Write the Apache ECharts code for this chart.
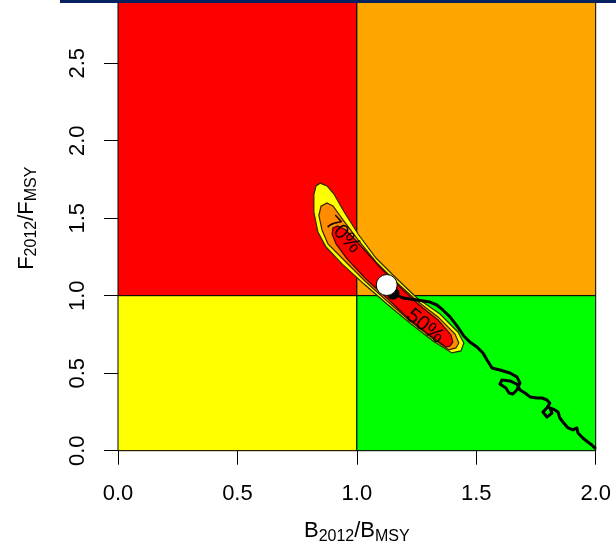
<!DOCTYPE html>
<html><head><meta charset="utf-8">
<script src="https://cdn.jsdelivr.net/npm/echarts@6/dist/echarts.min.js"></script>
<style>html,body{margin:0;padding:0;background:#fff;overflow:hidden}#c{width:616px;height:548px}</style>
</head><body><div id="c"></div>
<script>
// ---- data ----
const xTicks = [0, 0.5, 1, 1.5, 2];
const yTicks = [0, 0.5, 1, 1.5, 2, 2.5];

// quadrants: B range, F range
const quadB0 = [0, 1, 0, 1];
const quadB1 = [1, 2, 1, 2];
const quadF0 = [1, 1, 0, 0];
const quadF1 = [3, 3, 1, 1];

// stock trajectory (B/Bmsy, F/Fmsy)
const trajB = [1.997,1.984,1.967,1.946,1.926,1.921,1.905,1.884,1.863,1.850,1.842,1.829,1.808,1.817,1.796,1.779,1.796,1.808,1.796,1.775,1.754,1.725,1.704,1.683,1.670,1.641,1.607,1.599,1.624,1.637,1.653,1.670,1.683,1.670,1.641,1.599,1.566,1.545,1.528,1.503,1.473,1.448,1.419,1.390,1.360,1.335,1.306,1.252,1.193,1.151];
const trajF = [0.017,0.037,0.056,0.082,0.114,0.147,0.134,0.147,0.185,0.211,0.250,0.263,0.276,0.243,0.217,0.250,0.276,0.308,0.327,0.340,0.340,0.347,0.372,0.392,0.430,0.450,0.456,0.430,0.405,0.372,0.366,0.392,0.437,0.476,0.501,0.521,0.534,0.585,0.630,0.669,0.701,0.740,0.805,0.863,0.908,0.940,0.959,0.972,0.985,1.017];

// probability contours
const outerB = [0.846,0.875,0.904,0.942,1.005,1.080,1.164,1.252,1.348,1.423,1.448,1.436,1.398,1.319,1.222,1.126,1.030,0.938,0.871,0.837,0.820,0.820,0.829];
const outerF = [1.726,1.708,1.656,1.553,1.398,1.243,1.114,0.985,0.882,0.766,0.695,0.644,0.631,0.708,0.824,0.946,1.075,1.205,1.314,1.411,1.540,1.650,1.708];
const midB = [0.875,0.900,0.942,1.005,1.080,1.164,1.252,1.340,1.411,1.427,1.415,1.386,1.314,1.218,1.126,1.034,0.950,0.879,0.854,0.841,0.850];
const midF = [1.598,1.579,1.489,1.360,1.218,1.089,0.966,0.863,0.753,0.695,0.663,0.650,0.727,0.843,0.966,1.095,1.224,1.334,1.424,1.519,1.577];
const innerB = [0.921,0.954,1.013,1.088,1.172,1.256,1.340,1.394,1.402,1.390,1.373,1.310,1.214,1.130,1.038,0.959,0.913,0.896,0.900];
const innerF = [1.450,1.424,1.327,1.198,1.069,0.946,0.843,0.747,0.701,0.675,0.669,0.740,0.856,0.979,1.108,1.237,1.334,1.398,1.437];

const contourLabels = ['70%', '50%'];
const contourLabelB = [0.942, 1.285];
const contourLabelF = [1.392, 0.803];

const medianB = [1.125];
const medianF = [1.069];

// ---- styles ----
const FONT = 'Liberation Sans, Arial, sans-serif';
const quadColors = ['#FF0000', '#FFA500', '#FFFF00', '#00FF00'];
const polyFill = ['#FFFF00', '#FF8C00', '#FF0000'];
const polyStroke = ['#2a2a00', '#3a2000', '#400000'];
const labelRot = [-47, -39];

const polys = [[outerB, outerF], [midB, midF], [innerB, innerF]];

const chart = echarts.init(document.getElementById('c'), null, {renderer: 'canvas'});

const subRich = {
  m: {fontSize: 22, fontFamily: FONT, color: '#000'},
  s: {fontSize: 16, fontFamily: FONT, color: '#000', padding: [11, 0, 0, 0]}
};

chart.setOption({
  animation: false,
  backgroundColor: '#fff',
  grid: {left: 118, right: 20.3, top: -14.3, bottom: 97.3, outerBoundsMode: 'none', containLabel: false},
  xAxis: {
    type: 'value', min: 0, max: 2, interval: 0.5,
    splitLine: {show: false},
    axisLine: {show: true, onZero: false, lineStyle: {color: '#000', width: 1}},
    axisTick: {show: true, length: 14, lineStyle: {color: '#000', width: 1}, customValues: xTicks},
    axisLabel: {fontSize: 22, fontFamily: FONT, color: '#000', margin: 32, customValues: xTicks,
      formatter: v => v.toFixed(1)},
    name: '{m|B}{s|2012}{m|/B}{s|MSY}',
    nameLocation: 'middle', nameGap: 67,
    nameTextStyle: {fontFamily: FONT, color: '#000', rich: subRich}
  },
  yAxis: {
    type: 'value', min: 0, max: 3, interval: 0.5,
    splitLine: {show: false},
    axisLine: {show: true, onZero: false, lineStyle: {color: '#000', width: 1}},
    axisTick: {show: true, length: 14, lineStyle: {color: '#000', width: 1}, customValues: yTicks},
    axisLabel: {fontSize: 22, fontFamily: FONT, color: '#000', margin: 29, rotate: 90, customValues: yTicks,
      formatter: v => v.toFixed(1)},
    name: '{m|F}{s|2012}{m|/F}{s|MSY}',
    nameLocation: 'middle', nameGap: 78, nameRotate: 90,
    nameTextStyle: {fontFamily: FONT, color: '#000', rich: subRich}
  },
  graphic: [{
    type: 'rect', left: 60, top: 0, shape: {width: 556, height: 3},
    style: {fill: '#06215e'}, z: 100
  }],
  series: [
    {
      type: 'custom', z: 1, silent: true, clip: false,
      data: quadB0.map((b, i) => [b, quadF0[i], quadB1[i], quadF1[i]]),
      encode: {x: [0, 2], y: [1, 3]},
      renderItem: (params, api) => {
        const i = params.dataIndex;
        const p0 = api.coord([quadB0[i], quadF1[i]]);
        const p1 = api.coord([quadB1[i], quadF0[i]]);
        return {type: 'rect', shape: {x: p0[0], y: p0[1], width: p1[0] - p0[0], height: p1[1] - p0[1]},
          style: {fill: quadColors[i], stroke: '#000', lineWidth: 1}};
      }
    },
    {
      type: 'custom', z: 2, silent: true, clip: false,
      data: polys.map((p, i) => [p[0][0], p[1][0], i]),
      encode: {x: 0, y: 1},
      renderItem: (params, api) => {
        const i = params.dataIndex;
        const pb = polys[i][0], pf = polys[i][1];
        const pts = pb.map((b, k) => api.coord([b, pf[k]]));
        return {type: 'polygon', shape: {points: pts},
          style: {fill: polyFill[i], stroke: polyStroke[i], lineWidth: 1.2}};
      }
    },
    {
      type: 'line', z: 3, silent: true,
      data: trajB.map((b, i) => [b, trajF[i]]),
      showSymbol: false, symbol: 'none',
      lineStyle: {color: '#000', width: 3, join: 'round', cap: 'round'}
    },
    {
      type: 'custom', z: 4, silent: true, clip: false,
      data: contourLabels.map((t, i) => [contourLabelB[i], contourLabelF[i]]),
      encode: {x: 0, y: 1},
      renderItem: (params, api) => {
        const i = params.dataIndex;
        const p = api.coord([contourLabelB[i], contourLabelF[i]]);
        return {type: 'text', x: p[0], y: p[1], rotation: labelRot[i] * Math.PI / 180,
          style: {text: contourLabels[i], fontSize: 21, fontFamily: FONT, fill: '#1a0000',
            align: 'center', verticalAlign: 'middle'}};
      }
    },
    {
      type: 'scatter', z: 5, silent: true,
      data: [[trajB[trajB.length - 1], trajF[trajF.length - 1]]],
      symbol: 'circle', symbolSize: 13,
      itemStyle: {color: '#000', opacity: 1}
    },
    {
      type: 'scatter', z: 6, silent: true,
      data: medianB.map((b, i) => [b, medianF[i]]),
      symbol: 'circle', symbolSize: 21,
      itemStyle: {color: '#fff', borderColor: '#000', borderWidth: 1, opacity: 1}
    }
  ]
});
</script>
</body></html>
